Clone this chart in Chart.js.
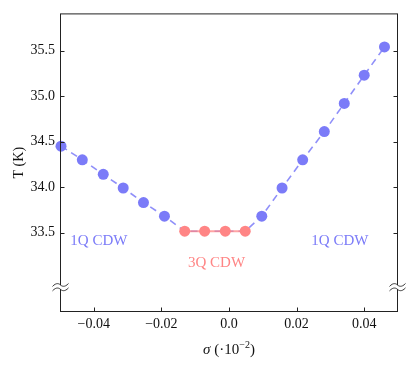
<!DOCTYPE html>
<html>
<head>
<meta charset="utf-8">
<script src="https://cdn.jsdelivr.net/npm/chart.js@4"></script>
<style>
  html, body { margin: 0; padding: 0; background: #fff; }
  #wrap { width: 415px; height: 365px; }
</style>
</head>
<body>
<div id="wrap"><canvas id="chart"></canvas></div>
<script>
// data
const blueLeftX = [-0.0497, -0.0434, -0.0372, -0.0313, -0.0253, -0.0191];
const blueLeftY = [34.45, 34.30, 34.14, 33.99, 33.83, 33.68];
const redX = [-0.0131, -0.0072, -0.0011, 0.0048];
const redY = [33.515, 33.515, 33.515, 33.515];
const blueRightX = [0.0097, 0.0157, 0.0218, 0.0282, 0.0341, 0.0400, 0.0460];
const blueRightY = [33.68, 33.99, 34.30, 34.61, 34.92, 35.23, 35.54];

const xTickValues = [-0.04, -0.02, 0, 0.02, 0.04];
const xTickLabels = ["\u22120.04", "\u22120.02", "0.0", "0.02", "0.04"];
const yTickValues = [33.5, 34.0, 34.5, 35.0, 35.5];
const yTickLabels = ["33.5", "34.0", "34.5", "35.0", "35.5"];

// phase labels (text, x, y in data units)
const phaseLabels = [
  { text: "1Q CDW", x: -0.0385, y: 33.405, color: "#7b7bf8" },
  { text: "3Q CDW", x: -0.0037, y: 33.165, color: "#ff8585" },
  { text: "1Q CDW", x: 0.0328, y: 33.405, color: "#7b7bf8" },
];
const breakValue = 32.9;

const BLUE = "#7b7bf8";
const RED = "#ff8585";
const FONT = "'Liberation Serif', 'DejaVu Serif', serif";

const toPts = (xs, ys) => xs.map((x, i) => ({ x: x, y: ys[i] }));

// the dashed fit goes through the outer points of the flat part
const fitPts = toPts(
  blueLeftX.concat([redX[0], redX[redX.length - 1]], blueRightX),
  blueLeftY.concat([redY[0], redY[redY.length - 1]], blueRightY)
);

const framePlugin = {
  id: "frame",
  afterDraw(chart) {
    const { ctx, chartArea: a, scales } = chart;
    const xs = scales.x, ys = scales.y;
    ctx.save();
    ctx.strokeStyle = "#222";
    ctx.lineWidth = 1;
    ctx.strokeRect(a.left + 0.5, a.top + 0.5, a.right - a.left - 1, a.bottom - a.top - 1);

    // inward ticks
    ctx.beginPath();
    xs.ticks.forEach(t => {
      const px = Math.round(xs.getPixelForValue(t.value)) + 0.5;
      ctx.moveTo(px, a.bottom);
      ctx.lineTo(px, a.bottom - 4.5);
    });
    ys.ticks.forEach(t => {
      const py = Math.round(ys.getPixelForValue(t.value)) + 0.5;
      ctx.moveTo(a.left, py);
      ctx.lineTo(a.left + 4.5, py);
      ctx.moveTo(a.right, py);
      ctx.lineTo(a.right - 4.5, py);
    });
    ctx.stroke();

    // axis break marks
    const by = ys.getPixelForValue(breakValue);
    [a.left + 0.5, a.right - 0.5].forEach(sx => {
      ctx.fillStyle = "#fff";
      ctx.fillRect(sx - 3, by - 2, 6, 4);
      ctx.strokeStyle = "#222";
      ctx.lineWidth = 0.9;
      [-2.2, 2.2].forEach(off => {
        ctx.beginPath();
        ctx.moveTo(sx - 8, by + off + 1.5);
        ctx.bezierCurveTo(sx - 4, by + off - 3, sx - 1, by + off - 1, sx, by + off);
        ctx.bezierCurveTo(sx + 1, by + off + 1, sx + 4, by + off + 3, sx + 8, by + off - 1.5);
        ctx.stroke();
      });
    });

    // phase labels
    ctx.font = "15px " + FONT;
    ctx.textAlign = "center";
    ctx.textBaseline = "middle";
    phaseLabels.forEach(l => {
      ctx.fillStyle = l.color;
      ctx.fillText(l.text, xs.getPixelForValue(l.x), ys.getPixelForValue(l.y));
    });

    // axis titles
    ctx.fillStyle = "#111";
    ctx.save();
    ctx.translate(19, (a.top + a.bottom) / 2);
    ctx.rotate(-Math.PI / 2);
    ctx.font = "14px " + FONT;
    ctx.fillText("T (K)", 0, 0);
    ctx.restore();

    const parts = [
      { t: "\u03c3", f: "italic 15px " + FONT, dy: 0 },
      { t: " (\u00b710", f: "15px " + FONT, dy: 0 },
      { t: "\u22122", f: "10px " + FONT, dy: -5 },
      { t: ")", f: "15px " + FONT, dy: 0 },
    ];
    let total = 0;
    parts.forEach(p => { ctx.font = p.f; p.w = ctx.measureText(p.t).width; total += p.w; });
    let cx = (a.left + a.right) / 2 - total / 2;
    ctx.textAlign = "left";
    parts.forEach(p => {
      ctx.font = p.f;
      ctx.fillText(p.t, cx, 350 + p.dy);
      cx += p.w;
    });
    ctx.restore();
  }
};

new Chart(document.getElementById("chart"), {
  type: "scatter",
  data: {
    datasets: [
      {
        type: "line",
        data: fitPts,
        borderColor: "rgba(123,123,248,0.85)",
        borderWidth: 1.6,
        borderDash: [7, 5],
        pointRadius: 0,
        fill: false,
        clip: false,
        order: 3,
      },
      {
        type: "line",
        data: toPts(redX, redY),
        borderColor: "rgba(255,133,133,0.75)",
        borderWidth: 2,
        pointRadius: 5.5,
        pointBackgroundColor: RED,
        pointBorderWidth: 0,
        fill: false,
        clip: false,
        order: 2,
      },
      {
        data: toPts(blueLeftX, blueLeftY).concat(toPts(blueRightX, blueRightY)),
        pointRadius: 5.5,
        pointBackgroundColor: BLUE,
        pointBorderWidth: 0,
        clip: false,
        order: 1,
      },
    ],
  },
  options: {
    responsive: true,
    maintainAspectRatio: false,
    animation: false,
    layout: { padding: { top: 12, right: 17, left: 0, bottom: 0 } },
    plugins: { legend: { display: false }, tooltip: { enabled: false } },
    scales: {
      x: {
        type: "linear",
        min: -0.05,
        max: 0.05,
        afterBuildTicks: s => { s.ticks = xTickValues.map(v => ({ value: v })); },
        afterFit: s => { s.height = 53; },
        grid: { display: false, drawTicks: false },
        border: { display: false },
        ticks: {
          padding: 4,
          color: "#111",
          font: { family: FONT, size: 14 },
          callback: (v, i) => xTickLabels[i],
        },
      },
      y: {
        type: "linear",
        min: 32.627,
        max: 35.909,
        afterBuildTicks: s => { s.ticks = yTickValues.map(v => ({ value: v })); },
        afterFit: s => { s.width = 60; },
        grid: { display: false, drawTicks: false },
        border: { display: false },
        ticks: {
          padding: 5,
          color: "#111",
          font: { family: FONT, size: 14 },
          callback: (v, i) => yTickLabels[i],
        },
      },
    },
  },
  plugins: [framePlugin],
});
</script>
</body>
</html>
